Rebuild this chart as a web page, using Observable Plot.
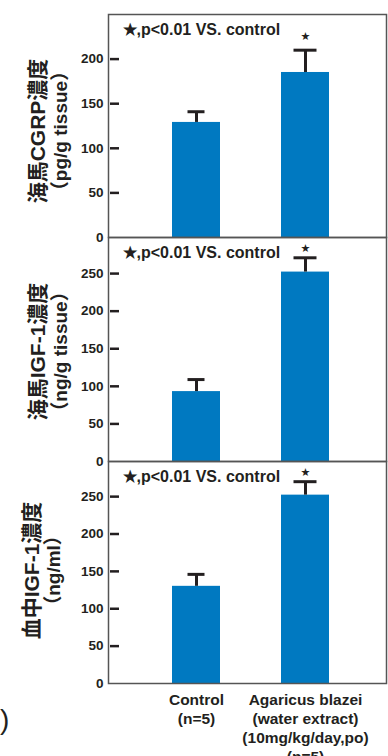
<!DOCTYPE html>
<html>
<head>
<meta charset="utf-8">
<script src="https://cdn.jsdelivr.net/npm/d3@7"></script>
<script src="https://cdn.jsdelivr.net/npm/@observablehq/plot@0.6"></script>
<style>
  html, body { margin: 0; padding: 0; background: #fff; }
  #chart { position: relative; width: 388px; height: 756px; overflow: hidden; }
  #chart svg { position: absolute; left: 0; overflow: visible; background: transparent; }
  #stray { position: absolute; left: 0px; top: 706px; font: 28px "Liberation Sans", Arial, sans-serif; color: #231f20; line-height: 1; }
</style>
</head>
<body>
<div id="chart"><span id="stray">)</span></div>
<script>
// ---- data ----
const categories = ["Control", "Agaricus blazei"];
const categoryLabels = ["Control\n(n=5)", "Agaricus blazei\n(water extract)\n(10mg/kg/day,po)\n(n=5)"];
const cgrpMean = [129, 185];
const cgrpUpper = [141, 210];
const hipIgfMean = [93, 252];
const hipIgfUpper = [109, 271];
const serumIgfMean = [130, 252];
const serumIgfUpper = [146, 270];
const ticksPanel1 = [0, 50, 100, 150, 200];
const ticksPanel23 = [0, 50, 100, 150, 200, 250];
const significance = [false, true];
const noteText = "★,p<0.01 VS. control";
const titles1 = ["海馬CGRP濃度", "（pg/g tissue）"];
const titles2 = ["海馬IGF-1濃度", "（ng/g tissue）"];
const titles3 = ["血中IGF-1濃度", "（ng/ml）"];

const INK = "#231f20";
const BLUE = "#0079c1";
const NUM_FONT = "'Liberation Sans', Arial, Helvetica, sans-serif";
const TITLE_FONT = "'Liberation Sans', 'Noto Sans CJK JP', sans-serif";

function panel({mean, upper, ymax, ticks, top, height, marginBottom, titles, titleDx, titleDy, starDy, showX}) {
  const rows = categories.map((c, i) => ({cat: c, mean: mean[i], upper: upper[i], sig: significance[i], label: categoryLabels[i]}));
  const plotW = 388 - 108 - 2;
  const marks = [
    Plot.barY(rows, {x: "cat", y: "mean", fill: BLUE}),
    Plot.ruleX(rows, {x: "cat", y1: "mean", y2: "upper", stroke: INK, strokeWidth: 3}),
    Plot.tickY(rows.filter(d => d.cat === categories[0]), {x: "cat", y: "upper", stroke: INK, strokeWidth: 3, insetLeft: 15.5, insetRight: 15.5}),
    Plot.tickY(rows.filter(d => d.cat === categories[1]), {x: "cat", y: "upper", stroke: INK, strokeWidth: 3, insetLeft: 12.5, insetRight: 12.5}),
    Plot.text(rows.filter(d => d.sig), {x: "cat", y: "upper", text: () => "★", dy: starDy, fontSize: 11, fill: INK, fontFamily: "'DejaVu Sans', sans-serif"}),
    Plot.ruleY(ticks.filter(t => t > 0), {y: d => d, stroke: INK, strokeWidth: 2.5, insetLeft: 2, insetRight: plotW - 11}),
    Plot.axisY({ticks, tickSize: 0, tickPadding: 5, label: null, fontSize: 13.5, fontWeight: "bold", fontFamily: NUM_FONT, fill: INK}),
    Plot.frame({stroke: "#555", strokeWidth: 1.5}),
    Plot.text([noteText], {frameAnchor: "top-left", dx: 14, dy: 9, textAnchor: "start", lineAnchor: "top", fontSize: 16, fontWeight: "bold", fontFamily: NUM_FONT, fill: INK}),
    Plot.text([titles[0]], {frameAnchor: "left", textAnchor: "middle", dx: titleDx[0], dy: titleDy, rotate: -90, fontSize: 21, fontWeight: "bold", fontFamily: TITLE_FONT, fill: INK}),
    Plot.text([titles[1]], {frameAnchor: "left", textAnchor: "middle", dx: titleDx[1], dy: titleDy, rotate: -90, fontSize: 19, fontWeight: "bold", fontFamily: TITLE_FONT, fill: INK})
  ];
  if (showX) {
    marks.push(Plot.axisX({tickSize: 0, tickPadding: 8, label: null, tickFormat: c => categoryLabels[categories.indexOf(c)], fontSize: 15.5, fontWeight: "bold", fontFamily: NUM_FONT, fill: INK, lineHeight: 1.23}));
  } else {
    marks.push(Plot.axisX({ticks: [], label: null}));
  }
  const svg = Plot.plot({
    width: 388,
    height,
    marginLeft: 108,
    marginRight: 2,
    marginTop: top === 0 ? 14 : 0,
    marginBottom,
    style: {background: "transparent", color: INK, fontFamily: NUM_FONT},
    x: {domain: categories, range: [172, 329], padding: 0.56, paddingOuter: 0, align: 0.5, axis: null},
    y: {domain: [0, ymax], axis: null},
    marks
  });
  svg.style.top = top + "px";
  document.getElementById("chart").appendChild(svg);
}

panel({mean: cgrpMean, upper: cgrpUpper, ymax: 250, ticks: ticksPanel1, top: 0, height: 238, marginBottom: 1,
  titles: titles1, titleDx: [-70, -48], titleDy: 5, starDy: -14, showX: false});
panel({mean: hipIgfMean, upper: hipIgfUpper, ymax: 298, ticks: ticksPanel23, top: 237, height: 224, marginBottom: 0,
  titles: titles2, titleDx: [-70, -48], titleDy: 2, starDy: -9, showX: false});
panel({mean: serumIgfMean, upper: serumIgfUpper, ymax: 297, ticks: ticksPanel23, top: 461, height: 295, marginBottom: 73,
  titles: titles3, titleDx: [-76, -55], titleDy: -2, starDy: -9, showX: true});
</script>
</body>
</html>
